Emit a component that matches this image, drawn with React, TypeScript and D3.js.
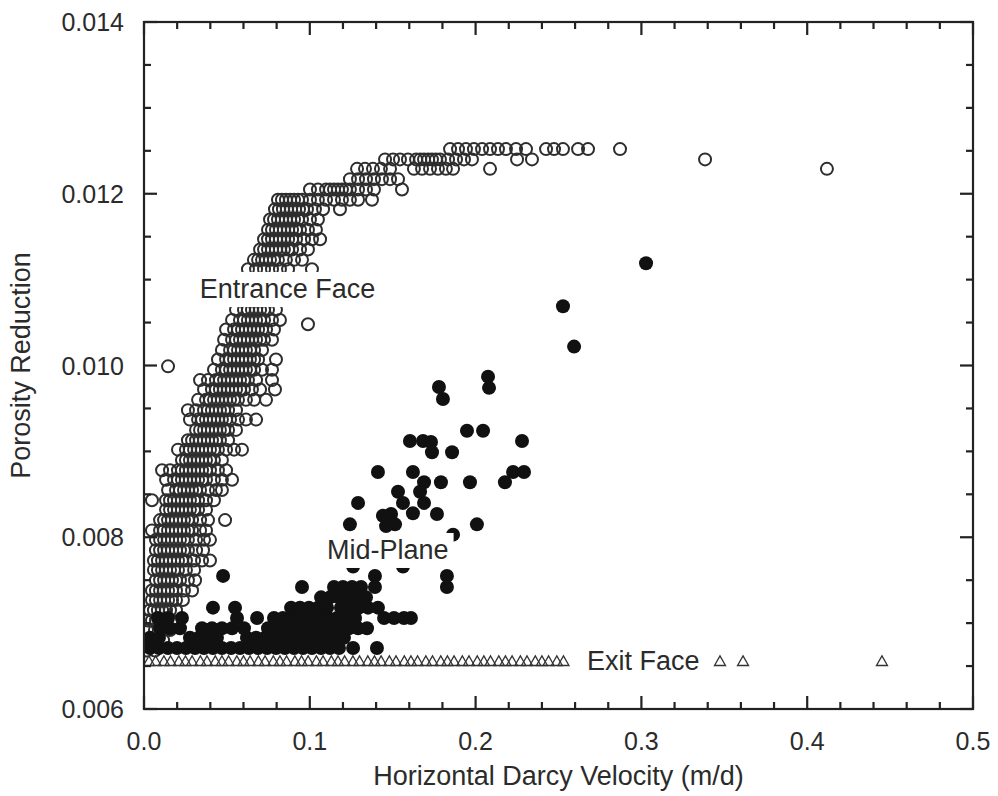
import React, { useLayoutEffect, useRef, useState } from 'react';
import * as d3 from 'd3';

// Axis ticks
const xTicks = [0, 0.1, 0.2, 0.3, 0.4, 0.5];
const xTickLabels = ['0.0', '0.1', '0.2', '0.3', '0.4', '0.5'];
const yTicks = [0.006, 0.008, 0.01, 0.012, 0.014];
const yTickLabels = ['0.006', '0.008', '0.010', '0.012', '0.014'];

// Entrance face: rows of [porosity reduction, velocities]
const entranceRows: [number, number[]][] = [
  [0.01252, [0.1846, 0.1894, 0.1942, 0.199, 0.2039, 0.2087, 0.2135, 0.2183, 0.2244, 0.2304, 0.2425, 0.2473, 0.2527, 0.2618, 0.2678, 0.2871]],
  [0.0124, [0.1454, 0.1502, 0.1544, 0.1592, 0.1641, 0.1689, 0.1737, 0.1785, 0.1834, 0.1882, 0.193, 0.1978, 0.225, 0.234, 0.3384]],
  [0.01229, [0.1285, 0.1333, 0.1381, 0.1429, 0.1484, 0.1628, 0.1677, 0.1725, 0.1773, 0.1821, 0.1864, 0.2087, 0.4119]],
  [0.01217, [0.1242, 0.1291, 0.1339, 0.1387, 0.1435, 0.1484, 0.1532]],
  [0.01205, [0.1001, 0.1049, 0.1098, 0.1146, 0.1194, 0.1242, 0.1291, 0.1339, 0.1387, 0.1556]],
  [0.01193, [0.0808, 0.0856, 0.0905, 0.0953, 0.1001, 0.1049, 0.1098, 0.1146, 0.1194, 0.1242, 0.1291, 0.1375]],
  [0.01182, [0.079, 0.0838, 0.0887, 0.0935, 0.0983, 0.1031, 0.108, 0.1182]],
  [0.0117, [0.076, 0.0808, 0.0856, 0.0905, 0.0953, 0.1001, 0.1049]],
  [0.01158, [0.0748, 0.0796, 0.0844, 0.0893, 0.0941, 0.0989, 0.1037]],
  [0.01147, [0.0724, 0.0772, 0.082, 0.0869, 0.0917, 0.0965, 0.1013, 0.1062]],
  [0.01135, [0.07, 0.0748, 0.0796, 0.0844, 0.0893, 0.0941, 0.0989]],
  [0.01123, [0.0663, 0.0712, 0.076, 0.0808, 0.0856, 0.0905, 0.0953]],
  [0.01112, [0.0627, 0.0676, 0.0724, 0.0772, 0.082, 0.0869, 0.1013]],
  [0.011, [0.0603, 0.0651, 0.07, 0.0748, 0.0796, 0.0844]],
  [0.01088, [0.0579, 0.0627, 0.0676, 0.0724, 0.0772, 0.082]],
  [0.01077, [0.0567, 0.0615, 0.0664, 0.0712, 0.076, 0.0808]],
  [0.01065, [0.0555, 0.0603, 0.0651, 0.07, 0.0748, 0.0796]],
  [0.01053, [0.0531, 0.0579, 0.0627, 0.0676, 0.0724, 0.0772, 0.082]],
  [0.01042, [0.0495, 0.0543, 0.0591, 0.0639, 0.0688, 0.0736, 0.0784]],
  [0.0103, [0.0483, 0.0531, 0.0579, 0.0627, 0.0676, 0.0724, 0.0772]],
  [0.01018, [0.047, 0.0519, 0.0567, 0.0615, 0.0664, 0.0712]],
  [0.01007, [0.0446, 0.0495, 0.0543, 0.0591, 0.0639, 0.0688, 0.0796]],
  [0.00995, [0.0422, 0.047, 0.0519, 0.0567, 0.0615, 0.0664, 0.0712, 0.0772]],
  [0.00983, [0.0338, 0.0386, 0.0434, 0.0483, 0.0531, 0.0579, 0.0627, 0.0676, 0.0772]],
  [0.00972, [0.0362, 0.041, 0.0458, 0.0507, 0.0555, 0.0603, 0.0651, 0.07, 0.079]],
  [0.0096, [0.0326, 0.0374, 0.0422, 0.047, 0.0519, 0.0567, 0.0615, 0.0664, 0.0736]],
  [0.00948, [0.0265, 0.0314, 0.0362, 0.041, 0.0458, 0.0507, 0.0555]],
  [0.00937, [0.0277, 0.0326, 0.0374, 0.0422, 0.047, 0.0519, 0.0567, 0.0615, 0.0676]],
  [0.00925, [0.0314, 0.0362, 0.041, 0.0458, 0.0507, 0.0555]],
  [0.00913, [0.0265, 0.0314, 0.0362, 0.041, 0.0458, 0.0507]],
  [0.00902, [0.0205, 0.0253, 0.0302, 0.035, 0.0398, 0.0446, 0.0495, 0.0543, 0.0591]],
  [0.0089, [0.0229, 0.0277, 0.0326, 0.0374, 0.0422, 0.047]],
  [0.00878, [0.0109, 0.0157, 0.0205, 0.0253, 0.0302, 0.035, 0.0398, 0.0446, 0.0495]],
  [0.00867, [0.0133, 0.0181, 0.0229, 0.0277, 0.0326, 0.0374, 0.0422, 0.047, 0.0531]],
  [0.00855, [0.0145, 0.0193, 0.0241, 0.029, 0.0338, 0.0386, 0.0434, 0.047]],
  [0.00843, [0.0048, 0.0133, 0.0181, 0.0229, 0.0277, 0.0326, 0.0374, 0.0422]],
  [0.00832, [0.0133, 0.0181, 0.0229, 0.0277, 0.0326, 0.0374]],
  [0.0082, [0.0097, 0.0145, 0.0193, 0.0241, 0.029, 0.0338, 0.0386, 0.0489]],
  [0.00808, [0.0048, 0.0097, 0.0145, 0.0193, 0.0241, 0.029, 0.0338, 0.0374]],
  [0.00797, [0.0072, 0.0121, 0.0169, 0.0217, 0.0265, 0.0314, 0.0362, 0.0398]],
  [0.00785, [0.0072, 0.0121, 0.0169, 0.0217, 0.0265, 0.0314, 0.0356]],
  [0.00773, [0.006, 0.0109, 0.0157, 0.0205, 0.0253, 0.0302, 0.035, 0.0398]],
  [0.00762, [0.006, 0.0109, 0.0157, 0.0205, 0.0253, 0.0302]],
  [0.0075, [0.0072, 0.0121, 0.0169, 0.0217, 0.0265, 0.0308]],
  [0.00738, [0.0048, 0.0097, 0.0145, 0.0193, 0.0241, 0.029]],
  [0.00727, [0.0048, 0.0097, 0.0145, 0.0193, 0.0235]],
  [0.00715, [0.0036, 0.0084, 0.0133, 0.0193]],
  [0.00703, [0.0024, 0.0072, 0.0121, 0.0169]],
  [0.00692, [0.0018, 0.0066, 0.0115, 0.0157]],
  [0.0068, [0.0018, 0.0066, 0.0115]],
  [0.00668, [0.0018, 0.0066]],
];
// Entrance face: extra points crowding the core of the band
const entranceCore: [number, number[]][] = [
  [0.0124, [0.1666, 0.1714, 0.1761]],
  [0.01205, [0.1122, 0.117, 0.1218]],
  [0.01193, [0.0832, 0.0881, 0.0929]],
  [0.01182, [0.0814, 0.0862, 0.0911, 0.0959]],
  [0.0117, [0.0784, 0.0832, 0.0881, 0.0929]],
  [0.01158, [0.0772, 0.082, 0.0869, 0.0917]],
  [0.01147, [0.0748, 0.0796, 0.0844, 0.0893]],
  [0.01135, [0.0724, 0.0772, 0.082, 0.0869]],
  [0.01123, [0.0688, 0.0736, 0.0784]],
  [0.01065, [0.0627, 0.0676, 0.0724]],
  [0.01053, [0.0603, 0.0651, 0.07]],
  [0.01042, [0.0567, 0.0615, 0.0664, 0.0712]],
  [0.0103, [0.0555, 0.0603, 0.0651, 0.07]],
  [0.01018, [0.0543, 0.0591, 0.0639]],
  [0.01007, [0.0519, 0.0567, 0.0615, 0.0664]],
  [0.00995, [0.0495, 0.0543, 0.0591, 0.0639]],
  [0.00983, [0.0458, 0.0507, 0.0555, 0.0603]],
  [0.00972, [0.0434, 0.0483, 0.0531, 0.0579]],
  [0.0096, [0.0398, 0.0446, 0.0495, 0.0543]],
  [0.00948, [0.0386, 0.0434, 0.0483]],
  [0.00937, [0.035, 0.0398, 0.0446, 0.0495]],
  [0.00925, [0.0338, 0.0386, 0.0434, 0.0483]],
  [0.00913, [0.029, 0.0338, 0.0386, 0.0434]],
  [0.00902, [0.0277, 0.0326, 0.0374, 0.0422]],
  [0.0089, [0.0253, 0.0302, 0.035, 0.0398]],
  [0.00878, [0.0229, 0.0277, 0.0326, 0.0374]],
  [0.00867, [0.0205, 0.0253, 0.0302, 0.035]],
  [0.00855, [0.0217, 0.0265, 0.0314]],
  [0.00843, [0.0157, 0.0205, 0.0253, 0.0302]],
  [0.00832, [0.0157, 0.0205, 0.0253, 0.0302]],
  [0.0082, [0.0121, 0.0169, 0.0217, 0.0265]],
  [0.00808, [0.0121, 0.0169, 0.0217, 0.0265]],
  [0.00797, [0.0097, 0.0145, 0.0193, 0.0241]],
  [0.00785, [0.0097, 0.0145, 0.0193, 0.0241]],
  [0.00773, [0.0084, 0.0133, 0.0181, 0.0229]],
  [0.00762, [0.0084, 0.0133, 0.0181]],
  [0.0075, [0.0097, 0.0145, 0.0193]],
  [0.00738, [0.0072, 0.0121, 0.0169]],
  [0.00727, [0.0072, 0.0121, 0.0169]],
  [0.00715, [0.006, 0.0109, 0.0157]],
  [0.00703, [0.0048, 0.0097]],
];
const entranceExtra: [number, number][] = [
  [0.0145, 0.00999],
  [0.0989, 0.01048],
];

// Mid-plane: dense rows near the bottom, then scattered points
const midRows: [number, number[]][] = [
  [0.00671, [0.0036, 0.009, 0.0145, 0.0199, 0.0253, 0.0308, 0.0362, 0.0416, 0.047, 0.0525, 0.0579, 0.0633, 0.0688, 0.0742, 0.0796, 0.085, 0.0905, 0.0959, 0.1013, 0.1068, 0.1122, 0.1176, 0.1261, 0.1405]],
  [0.00683, [0.0036, 0.009, 0.0277, 0.0331, 0.0386, 0.044, 0.0621, 0.0676, 0.073, 0.0784, 0.0838, 0.0893, 0.0947, 0.1001, 0.1055, 0.111, 0.1164, 0.1206]],
  [0.00694, [0.0097, 0.0157, 0.0217, 0.035, 0.041, 0.047, 0.0531, 0.0603, 0.0748, 0.0802, 0.0856, 0.0911, 0.0965, 0.1019, 0.1074, 0.1128, 0.1182, 0.1236, 0.1291, 0.1345]],
  [0.00706, [0.0084, 0.0145, 0.0229, 0.0561, 0.0682, 0.0784, 0.0838, 0.0893, 0.0947, 0.1001, 0.1055, 0.111, 0.1164, 0.1218, 0.1273, 0.1448, 0.1508, 0.1568, 0.161]],
  [0.00718, [0.0416, 0.0549, 0.0887, 0.0941, 0.0995, 0.1049, 0.1104, 0.1188, 0.1242, 0.1297, 0.1351, 0.1411]],
  [0.0073, [0.1068, 0.1122, 0.1176, 0.123, 0.1285, 0.1339]],
  [0.00742, [0.0953, 0.1146, 0.12, 0.1255, 0.1309, 0.1393, 0.1827]],
  [0.00755, [0.0477, 0.1393, 0.1827]],
  [0.00766, [0.1261, 0.1562]],
];
const midScatter: [number, number][] = [
  [0.3028, 0.01119], [0.2527, 0.01069], [0.2594, 0.01022],
  [0.2075, 0.00987], [0.2081, 0.00974], [0.1779, 0.00975], [0.1803, 0.00961],
  [0.1948, 0.00924], [0.2045, 0.00924], [0.228, 0.00912], [0.1604, 0.00912],
  [0.1683, 0.00912], [0.1731, 0.00911], [0.1737, 0.00899], [0.1858, 0.00899],
  [0.1411, 0.00876], [0.1622, 0.00876], [0.1689, 0.00864], [0.1791, 0.00864],
  [0.1966, 0.00864], [0.2177, 0.00864], [0.2226, 0.00876], [0.2292, 0.00876],
  [0.1532, 0.00853], [0.1665, 0.00853], [0.1562, 0.0084], [0.1689, 0.0084],
  [0.1291, 0.0084], [0.1622, 0.00828], [0.1767, 0.00827], [0.1242, 0.00815],
  [0.2008, 0.00815], [0.1441, 0.00825], [0.149, 0.00827], [0.1514, 0.00815],
  [0.146, 0.00813], [0.1864, 0.00803],
];

// Exit face
const exitY = 0.00656;
const exitX = [
  0.003, 0.007, 0.012, 0.016, 0.021, 0.025, 0.029, 0.034, 0.038, 0.043, 0.047, 0.051,
  0.056, 0.06, 0.064, 0.069, 0.073, 0.078, 0.082, 0.086, 0.091, 0.095, 0.099, 0.104,
  0.108, 0.113, 0.117, 0.121, 0.126, 0.13, 0.135, 0.139, 0.143, 0.148, 0.152, 0.157,
  0.161, 0.165, 0.17, 0.174, 0.179, 0.183, 0.187, 0.192, 0.196, 0.201, 0.205, 0.209,
  0.214, 0.218, 0.222, 0.227, 0.231, 0.236, 0.24, 0.244, 0.249, 0.253,
  0.3474, 0.3613, 0.4451,
];

const FONT = "'Liberation Sans', Arial, Helvetica, sans-serif";
const INK = '#2b2b2b';

function BoxedLabel({ x, y, text, size }: { x: number; y: number; text: string; size: number }) {
  const ref = useRef<SVGTextElement>(null);
  const [box, setBox] = useState<{ x: number; y: number; w: number; h: number } | null>(null);
  useLayoutEffect(() => {
    if (ref.current) {
      const b = ref.current.getBBox();
      setBox({ x: b.x, y: b.y, w: b.width, h: b.height });
    }
  }, [x, y, text, size]);
  return (
    <g>
      {box && (
        <rect x={box.x - 5} y={box.y - 2} width={box.w + 10} height={box.h + 5} fill="#fff" />
      )}
      <text ref={ref} x={x} y={y} fontSize={size} fill={INK} fontFamily={FONT}>
        {text}
      </text>
    </g>
  );
}

export default function App() {
  const x = d3.scaleLinear().domain([0, 0.5]).range([144, 973]);
  const y = d3.scaleLinear().domain([0.006, 0.014]).range([709, 22]);
  const [x0, x1] = x.range();
  const [y0, y1] = y.range();

  const xMinor = d3.range(0, 0.5001, 0.02);
  const yMinor = d3.range(0.006, 0.01401, 0.0005);
  const major = 13;
  const minor = 7;

  const tri = 'M0,-5L5.5,4.6L-5.5,4.6Z';

  const entrancePts: [number, number][] = [
    ...entranceRows.flatMap(([py, xs]) => xs.map((v) => [v, py] as [number, number])),
    ...entranceCore.flatMap(([py, xs]) => xs.map((v) => [v, py] as [number, number])),
    ...entranceExtra,
  ];
  const midPts: [number, number][] = [
    ...midRows.flatMap(([py, xs]) => xs.map((v) => [v, py] as [number, number])),
    ...midScatter,
  ];

  return (
    <svg
      width={998}
      height={796}
      style={{ position: 'absolute', left: 0, top: 0, display: 'block' }}
      fontFamily={FONT}
    >
      <rect width={998} height={796} fill="#fff" />
      <defs>
        <clipPath id="plot">
          <rect x={x0} y={y1} width={x1 - x0} height={y0 - y1} />
        </clipPath>
      </defs>

      <g clipPath="url(#plot)">
        {/* Entrance face: open circles */}
        <g fill="none" stroke="#2e2e2e" strokeWidth={2}>
          {entrancePts.map(([vx, vy], i) => (
            <circle key={`e${i}`} cx={x(vx)} cy={y(vy)} r={6} />
          ))}
        </g>

        {/* Mid-plane: filled circles */}
        <g fill="#111">
          {midPts.map(([vx, vy], i) => (
            <circle key={`m${i}`} cx={x(vx)} cy={y(vy)} r={7} />
          ))}
        </g>

        {/* Exit face: open triangles */}
        <g fill="none" stroke="#333" strokeWidth={1.3}>
          {exitX.map((v, i) => (
            <path key={`t${i}`} d={tri} transform={`translate(${x(v)},${y(exitY)})`} />
          ))}
        </g>
      </g>

      <BoxedLabel x={x(0.0336)} y={y(0.010786)} text="Entrance Face" size={27} />
      <BoxedLabel x={x(0.1104)} y={y(0.007747)} text="Mid-Plane" size={27} />
      <BoxedLabel x={x(0.2672)} y={y(0.006454)} text="Exit Face" size={27} />

      {/* Frame and inward ticks on all four sides */}
      <g stroke="#222" strokeWidth={2.2}>
        <rect x={x0} y={y1} width={x1 - x0} height={y0 - y1} fill="none" />
        {xMinor.map((v, i) => {
          const isMajor = Math.abs(v * 10 - Math.round(v * 10)) < 1e-6;
          const len = isMajor ? major : minor;
          return (
            <g key={`xt${i}`}>
              <line x1={x(v)} x2={x(v)} y1={y0} y2={y0 - len} />
              <line x1={x(v)} x2={x(v)} y1={y1} y2={y1 + len} />
            </g>
          );
        })}
        {yMinor.map((v, i) => {
          const isMajor = Math.abs(v * 500 - Math.round(v * 500)) < 1e-6;
          const len = isMajor ? major : minor;
          return (
            <g key={`yt${i}`}>
              <line x1={x0} x2={x0 + len} y1={y(v)} y2={y(v)} />
              <line x1={x1} x2={x1 - len} y1={y(v)} y2={y(v)} />
            </g>
          );
        })}
      </g>

      <g fontSize={25} fill={INK}>
        {xTicks.map((v, i) => (
          <text key={`xl${i}`} x={x(v)} y={y0 + 41} textAnchor="middle">
            {xTickLabels[i]}
          </text>
        ))}
        {yTicks.map((v, i) => (
          <text key={`yl${i}`} x={x0 - 20} y={y(v)} dy="0.36em" textAnchor="end">
            {yTickLabels[i]}
          </text>
        ))}
      </g>

      <text x={(x0 + x1) / 2} y={785} fontSize={27} fill={INK} textAnchor="middle">
        Horizontal Darcy Velocity (m/d)
      </text>
      <text
        transform={`translate(30,${(y0 + y1) / 2}) rotate(-90)`}
        fontSize={27}
        fill={INK}
        textAnchor="middle"
      >
        Porosity Reduction
      </text>
    </svg>
  );
}
